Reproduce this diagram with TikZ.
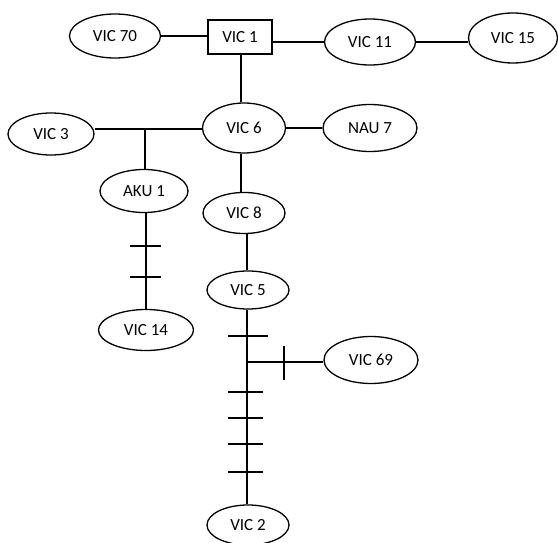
\documentclass[tikz,border=0pt]{standalone}
\usepackage{fontspec}
\setmainfont{Carlito}
\usetikzlibrary{shapes.geometric}
\begin{document}
\begin{tikzpicture}[x=1pt,y=-1pt,line width=1.3pt,
  ell/.style={draw,ellipse,inner sep=0pt,minimum width=#1,minimum height=44pt,font=\fontsize{17}{19}\selectfont},
  ell/.default=90pt,
  box/.style={draw,rectangle,inner sep=0pt,minimum width=64pt,minimum height=34pt,font=\fontsize{17}{19}\selectfont},
  tick/.style={line width=1.3pt}]
\useasboundingbox (0,0) rectangle (558,543);
\node[ell=91pt] (v70) at (115,36) {VIC 70};
\node[box] (v1) at (240,37) {VIC 1};
\node[ell=91pt,minimum height=46pt] (v11) at (370,42) {VIC 11};
\node[ell=89pt,minimum height=50pt] (v15) at (513,38) {VIC 15};
\node[ell=86pt,minimum height=42pt] (v3) at (51,134) {VIC 3};
\node[ell=83pt,minimum height=50pt] (v6) at (244,128) {VIC 6};
\node[ell=94pt,minimum height=47pt] (n7) at (370,128) {NAU 7};
\node[ell=88pt,minimum height=43pt] (aku) at (144,191) {AKU 1};
\node[ell=82pt,minimum height=41pt] (v8) at (244,213) {VIC 8};
\node[ell=82pt,minimum height=38pt] (v5) at (248,290) {VIC 5};
\node[ell=95pt,minimum height=41pt] (v14) at (146,330) {VIC 14};
\node[ell=94pt,minimum height=47pt] (v69) at (371,360) {VIC 69};
\node[ell=82pt,minimum height=40pt] (v2) at (248,525) {VIC 2};
\coordinate (j1) at (145,129);
\coordinate (j2) at (247,362);
% top row
\draw (v70.east) -- (v70.east -| v1.west);
\draw (v11.west -| v1.east) -- (v11.west);
\draw (v11.east) -- (v11.east -| v15.west);
\draw ([xshift=1pt]v1.south) -- ([xshift=1pt]v1.south |- v6.north);
% VIC 6 row
\draw (j1 -| v3.east) -- (j1 -| v6.west);
\draw (v6.east) -- (n7.west);
\draw (j1) -- (j1 |- aku.north);
\draw ([xshift=-3pt]v6.south) -- ([xshift=-3pt]v6.south |- v8.north);
\draw ([xshift=3pt]v8.south) -- ([xshift=3pt]v8.south |- v5.north);
% AKU 1 - VIC 14
\draw ([xshift=2pt]aku.south) -- (v14.north);
\draw[tick] (130,246) -- (161,246);
\draw[tick] (130,277) -- (161,277);
% VIC 5 - VIC 2
\draw ([xshift=-1pt]v5.south) -- ([xshift=-1pt]v2.north);
\draw (j2) -- (j2 -| v69.west);
\draw[tick] (228,336) -- (268,336);
\draw[tick] (284,346) -- (284,380);
\draw[tick] (228,392) -- (263,392);
\draw[tick] (228,418) -- (263,418);
\draw[tick] (228,444) -- (263,444);
\draw[tick] (228,472) -- (263,472);
\end{tikzpicture}
\end{document}
